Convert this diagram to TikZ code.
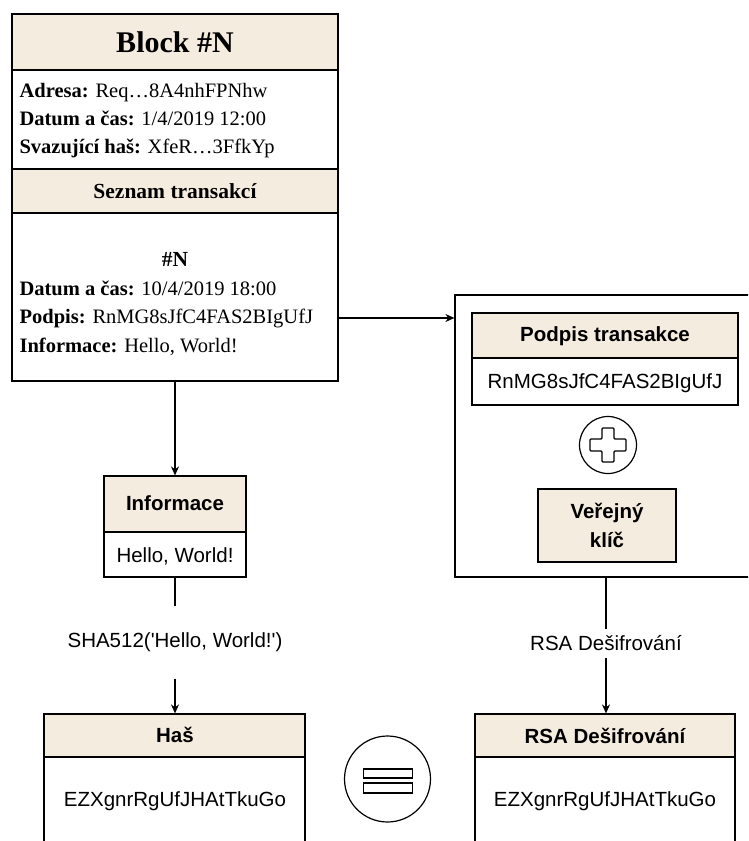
\documentclass[tikz,border=0pt]{standalone}
\usepackage{fontspec}
\setmainfont{Liberation Serif}
\setsansfont{Liberation Sans}
\usetikzlibrary{arrows.meta}
\definecolor{beige}{RGB}{245,236,224}
\begin{document}
\begin{tikzpicture}[x=1pt,y=-1pt, line width=1.2pt,
  box/.style={draw, rectangle, inner sep=0pt},
  arr/.style={-{Stealth[length=9pt,width=8pt]}},
  sf/.style={font=\sffamily\fontsize{20.5}{24}\selectfont, inner sep=0pt},
  sfb/.style={font=\sffamily\bfseries\fontsize{20.5}{24}\selectfont, inner sep=0pt},
  rm/.style={font=\rmfamily\fontsize{20.5}{24}\selectfont, inner sep=0pt, anchor=base west},
  rmb/.style={font=\rmfamily\bfseries\fontsize{21.5}{25}\selectfont, inner sep=0pt, anchor=base}]
\useasboundingbox (0,0) rectangle (748,841);
\clip (0,0) rectangle (748,841);

% header fills
\fill[beige] (12,14) rectangle (338,70);
\fill[beige] (12,169) rectangle (338,213);
\fill[beige] (472,313) rectangle (738,358);
\fill[beige] (104,476) rectangle (246,532);
\fill[beige] (44,714) rectangle (305,757);
\fill[beige] (475,714) rectangle (735,757);

% header separators
\draw (12,70) -- (338,70);
\draw (12,169) -- (338,169);
\draw (12,213) -- (338,213);
\draw (472,358) -- (738,358);
\draw (104,532) -- (246,532);
\draw (44,757) -- (305,757);
\draw (475,757) -- (735,757);

% boxes
\node[box, minimum width=326pt, minimum height=367pt] (block) at (175,197.5) {};
\node[box, minimum width=310pt, minimum height=282pt] (sig) at (610,436) {};
\node[box, minimum width=266pt, minimum height=92pt] (pt) at (605,359) {};
\node[draw, circle, minimum size=57pt, inner sep=0pt] (plus) at (608,445) {};
\node[box, fill=beige, minimum width=138pt, minimum height=73pt, align=center, font=\sffamily\bfseries\fontsize{20.5}{29}\selectfont] (vk) at (607,525.5) {Veřejný\\klíč};
\node[box, minimum width=142pt, minimum height=101pt] (inf) at (175,526.5) {};
\node[box, minimum width=261pt, minimum height=156pt] (has) at (174.5,792) {};
\node[box, minimum width=260pt, minimum height=156pt] (rsa) at (605,792) {};
\node[draw, circle, minimum size=86pt, inner sep=0pt] (eq) at (387.5,779) {};

% plus sign
\draw[line width=1.1pt, rounded corners=1pt, shift={(plus.center)}]
  (-6,-17) -- (6,-17) -- (6,-6) -- (18,-6) -- (18,6) -- (6,6) -- (6,17)
  -- (-6,17) -- (-6,6) -- (-18,6) -- (-18,-6) -- (-6,-6) -- cycle;
% equals sign
\draw[line width=1.1pt, shift={(eq.center)}] (-24,-10) rectangle (25,-1);
\draw[line width=1.1pt, shift={(eq.center)}] (-24,4) rectangle (25,14);

% block texts
\node[font=\rmfamily\bfseries\fontsize{30}{36}\selectfont] (title) at (175,42) {Block \#N};
\node[rm] (adr) at (19,97) {\textbf{Adresa:} Req…8A4nhFPNhw};
\node[rm] (dat) at (19,125) {\textbf{Datum a čas:} 1/4/2019 12:00};
\node[rm] (svz) at (19,153) {\textbf{Svazující haš:} XfeR…3FfkYp};
\node[rmb] (sez) at (175,198) {Seznam transakcí};
\node[rmb] (num) at (175,266) {\#N};
\node[rm] (tdat) at (19,295) {\textbf{Datum a čas:} 10/4/2019 18:00};
\node[rm] (tp) at (19,323) {\textbf{Podpis:} RnMG8sJfC4FAS2BIgUfJ};
\node[rm] (tinf) at (19,352) {\textbf{Informace:} Hello, World!};

% right side texts
\node[sfb] (pth) at (605,336) {Podpis transakce};
\node[sf] (ptv) at (605,383) {RnMG8sJfC4FAS2BIgUfJ};
\node[sfb] (rsah) at (605,736) {RSA Dešifrování};
\node[sf] (rsav) at (605,801) {EZXgnrRgUfJHAtTkuGo};

% left side texts
\node[sfb] (infh) at (175,503) {Informace};
\node[sf] (infv) at (175,556) {Hello, World!};
\node[sfb] (hash) at (175,735) {Haš};
\node[sf] (hasv) at (175,801) {EZXgnrRgUfJHAtTkuGo};

% edge labels
\node[sf, minimum height=71pt] (shalab) at (175,642.5) {SHA512(\textquotesingle Hello, World!\textquotesingle)};
\node[sf, minimum height=27pt] (rsalab) at (606,643.5) {RSA Dešifrování};

% connectors
\draw[arr] (block.east |- tp) -- (sig.west |- tp);
\draw[arr] (block.south) -- (inf.north);
\draw (inf.south) -- (shalab.north);
\draw[arr] (shalab.south) -- (has.north -| shalab);
\draw (rsalab |- sig.south) -- (rsalab.north);
\draw[arr] (rsalab.south) -- (rsalab |- rsa.north);
\end{tikzpicture}
\end{document}
